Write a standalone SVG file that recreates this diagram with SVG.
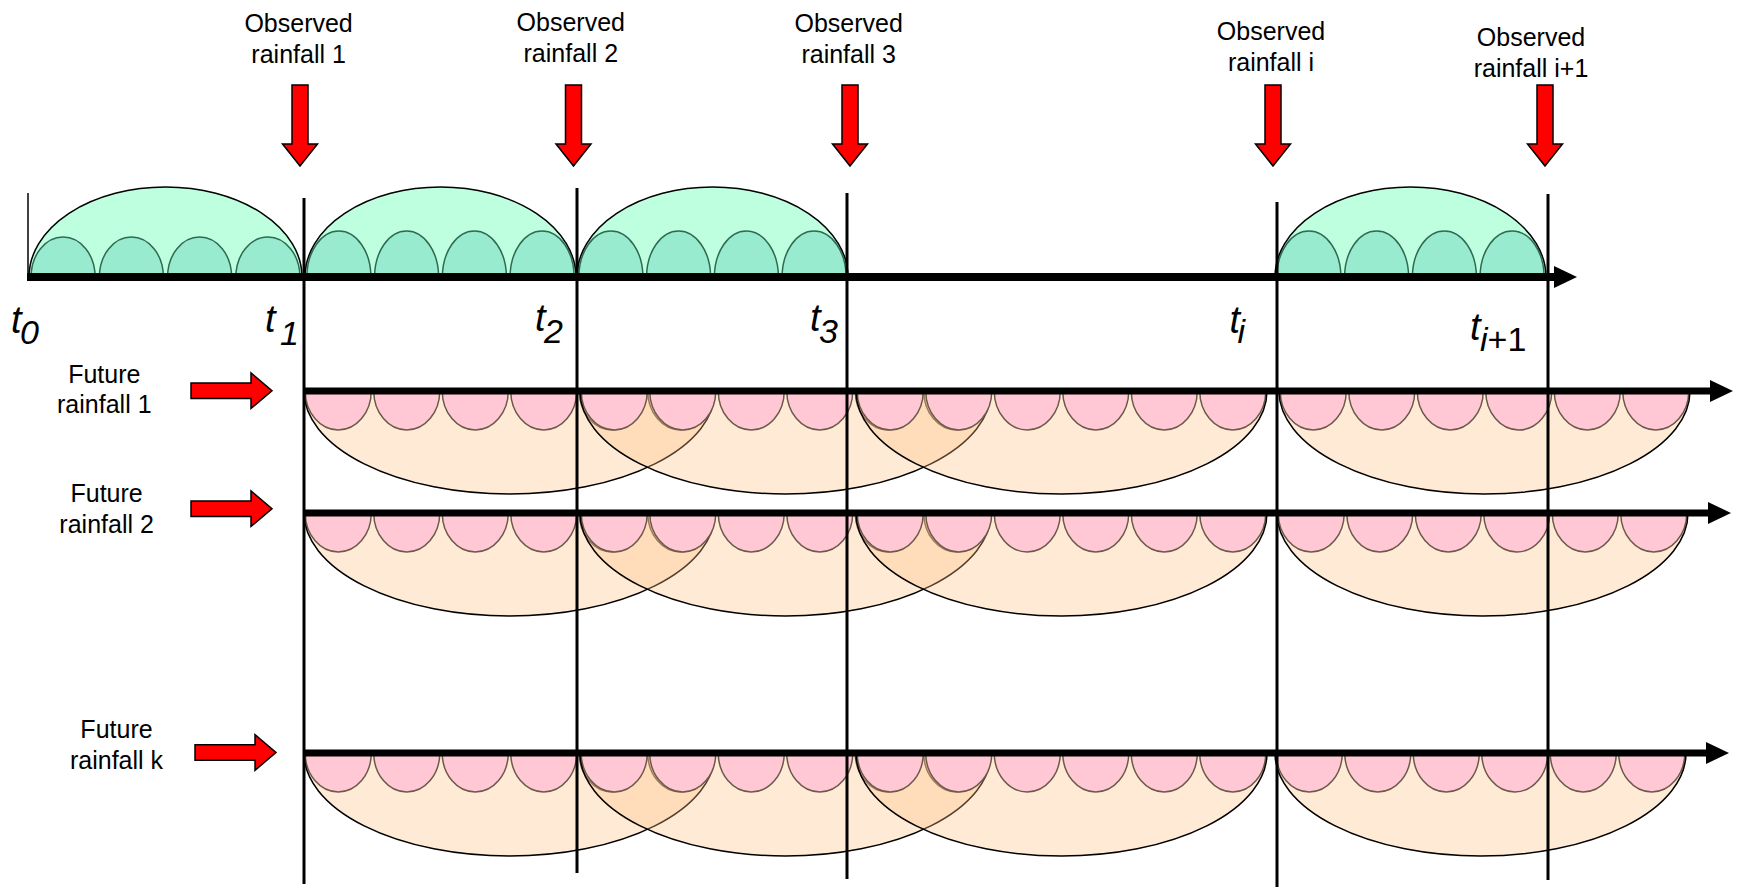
<svg xmlns="http://www.w3.org/2000/svg" xmlns:xlink="http://www.w3.org/1999/xlink" width="1739" height="887" viewBox="0 0 1739 887">
  <style>
    .lbl { font-family: "Liberation Sans", Arial, sans-serif; font-size: 25px; fill: #000; text-anchor: middle; }
    .tl { font-family: "Liberation Sans", Arial, sans-serif; font-size: 38px; font-style: italic; fill: #000; }
    .sub { font-size: 34px; }
    .up { font-style: normal; }
    .mint { fill: #bdffdf; }
    .subdome { fill: #99ebcf; stroke: #2f6a52; stroke-width: 1.5; }
    .edge { fill: none; stroke: #000; stroke-width: 1.5; }
    .peach { fill: #ffc084; fill-opacity: 0.33; }
    .drop { fill: #ffc8d4; stroke: #6b5a4a; stroke-width: 1.5; }
    .axis { stroke: #000; stroke-width: 7; fill: none; }
    .axis-top { stroke-width: 8; }
    .tick { stroke: #000; stroke-width: 3; }
    .tick-thin { stroke: #000; stroke-width: 1.5; }
    .red { fill: #ff0000; stroke: #000; stroke-width: 1.5; }
  </style>
  <defs>
    <marker id="head" markerUnits="userSpaceOnUse" markerWidth="24" markerHeight="24" refX="1" refY="12" orient="auto">
      <path d="M0,1 L23,12 L0,23 Z" fill="#000"/>
    </marker>

    <!-- observed spell: large dome over four sub-steps, base at y=0 -->
    <clipPath id="obsClip"><path d="M0,0 A135.5,90 0 0 1 271,0 Z"/></clipPath>
    <g id="obsDome">
      <path class="mint" d="M0,0 A135.5,90 0 0 1 271,0 Z"/>
      <g clip-path="url(#obsClip)">
        <path class="subdome" d="M1.9,0 A32,46 0 0 1 65.9,0 Z"/>
        <path class="subdome" d="M69.6,0 A32,46 0 0 1 133.6,0 Z"/>
        <path class="subdome" d="M137.4,0 A32,46 0 0 1 201.4,0 Z"/>
        <path class="subdome" d="M205.1,0 A32,46 0 0 1 269.1,0 Z"/>
      </g>
      <path class="edge" d="M0,0 A135.5,90 0 0 1 271,0"/>
    </g>
    <clipPath id="obsClipFirst"><path d="M0,0 A136.5,90 0 0 1 273,0 Z"/></clipPath>
    <g id="obsDomeFirst">
      <path class="mint" d="M0,0 A136.5,90 0 0 1 273,0 Z"/>
      <g clip-path="url(#obsClipFirst)">
        <path class="subdome" d="M2.1,0 A32,40 0 0 1 66.1,0 Z"/>
        <path class="subdome" d="M70.4,0 A32,40 0 0 1 134.4,0 Z"/>
        <path class="subdome" d="M138.6,0 A32,40 0 0 1 202.6,0 Z"/>
        <path class="subdome" d="M206.9,0 A32,40 0 0 1 270.9,0 Z"/>
      </g>
      <path class="edge" d="M0,0 A136.5,90 0 0 1 273,0"/>
    </g>

    <!-- forecast spell: hanging half-ellipse over six sub-steps, top at y=0 -->
    <clipPath id="futClip"><path d="M0,0 A205.5,103 0 0 0 411,0 Z"/></clipPath>
    <g id="futSpell">
      <path class="peach" d="M0,0 A205.5,103 0 0 0 411,0 Z"/>
      <g clip-path="url(#futClip)">
        <path class="drop" d="M1.25,0 A33,39 0 0 0 67.25,0 Z"/>
        <path class="drop" d="M69.75,0 A33,39 0 0 0 135.75,0 Z"/>
        <path class="drop" d="M138.25,0 A33,39 0 0 0 204.25,0 Z"/>
        <path class="drop" d="M206.75,0 A33,39 0 0 0 272.75,0 Z"/>
        <path class="drop" d="M275.25,0 A33,39 0 0 0 341.25,0 Z"/>
        <path class="drop" d="M343.75,0 A33,39 0 0 0 409.75,0 Z"/>
      </g>
      <path class="edge" d="M0,0 A205.5,103 0 0 0 411,0"/>
    </g>

    <path id="downArrow" class="red" d="M-8,0 H8 V59 H17.5 L0,81 L-17.5,59 H-8 Z"/>
    <path id="rightArrow" class="red" d="M0,-7.8 H60 V-17.8 L81,0 L60,17.8 V7.8 H0 Z"/>
  </defs>

  <!-- observed rainfall spells on the upper time axis -->
  <g id="observed-spells">
    <use xlink:href="#obsDomeFirst" x="29" y="277"/>
    <use xlink:href="#obsDome" x="305" y="277"/>
    <use xlink:href="#obsDome" x="577" y="277"/>
    <use xlink:href="#obsDome" x="1275" y="277"/>
  </g>

  <!-- forecast rows -->
  <g id="future-row-1">
    <use xlink:href="#futSpell" x="304" y="391"/>
    <use xlink:href="#futSpell" x="580" y="391"/>
    <use xlink:href="#futSpell" x="856" y="391"/>
    <use xlink:href="#futSpell" x="1279" y="391"/>
  </g>
  <g id="future-row-2">
    <use xlink:href="#futSpell" x="304" y="513"/>
    <use xlink:href="#futSpell" x="580" y="513"/>
    <use xlink:href="#futSpell" x="856" y="513"/>
    <use xlink:href="#futSpell" x="1277" y="513"/>
  </g>
  <g id="future-row-k">
    <use xlink:href="#futSpell" x="304" y="753"/>
    <use xlink:href="#futSpell" x="580" y="753"/>
    <use xlink:href="#futSpell" x="856" y="753"/>
    <use xlink:href="#futSpell" x="1275" y="753"/>
  </g>

  <!-- time axes and time marks -->
  <g id="connectors">
    <line class="axis axis-top" x1="27" y1="277" x2="1555" y2="277" marker-end="url(#head)"/>
    <line class="axis" x1="304" y1="391" x2="1711" y2="391" marker-end="url(#head)"/>
    <line class="axis" x1="304" y1="513" x2="1709" y2="513" marker-end="url(#head)"/>
    <line class="axis" x1="304" y1="753" x2="1707" y2="753" marker-end="url(#head)"/>

    <line class="tick-thin" x1="28" y1="193" x2="28" y2="277"/>
    <line class="tick" x1="304" y1="198" x2="304" y2="884"/>
    <line class="tick" x1="577" y1="188" x2="577" y2="873"/>
    <line class="tick" x1="847" y1="193" x2="847" y2="879"/>
    <line class="tick" x1="1277" y1="202" x2="1277" y2="887"/>
    <line class="tick" x1="1548" y1="194" x2="1548" y2="880"/>
  </g>

  <!-- observation arrows and labels -->
  <g id="obs-1">
    <use xlink:href="#downArrow" x="300" y="85"/>
    <text class="lbl" x="298.6" y="32">Observed</text>
    <text class="lbl" x="298.6" y="63">rainfall 1</text>
  </g>
  <g id="obs-2">
    <use xlink:href="#downArrow" x="573.5" y="85"/>
    <text class="lbl" x="570.8" y="31">Observed</text>
    <text class="lbl" x="570.8" y="62">rainfall 2</text>
  </g>
  <g id="obs-3">
    <use xlink:href="#downArrow" x="850" y="85"/>
    <text class="lbl" x="848.7" y="32">Observed</text>
    <text class="lbl" x="848.7" y="63">rainfall 3</text>
  </g>
  <g id="obs-i">
    <use xlink:href="#downArrow" x="1273" y="85"/>
    <text class="lbl" x="1271" y="40">Observed</text>
    <text class="lbl" x="1271" y="71">rainfall i</text>
  </g>
  <g id="obs-i1">
    <use xlink:href="#downArrow" x="1545" y="85"/>
    <text class="lbl" x="1531" y="46">Observed</text>
    <text class="lbl" x="1531" y="77">rainfall i+1</text>
  </g>

  <!-- forecast labels and arrows -->
  <g id="future-1">
    <text class="lbl" x="104.3" y="382.5">Future</text>
    <text class="lbl" x="104.3" y="413.3">rainfall 1</text>
    <use xlink:href="#rightArrow" x="191" y="390.7"/>
  </g>
  <g id="future-2">
    <text class="lbl" x="106.6" y="501.7">Future</text>
    <text class="lbl" x="106.6" y="533.3">rainfall 2</text>
    <use xlink:href="#rightArrow" x="191" y="508.7"/>
  </g>
  <g id="future-k">
    <text class="lbl" x="116.5" y="737.7">Future</text>
    <text class="lbl" x="116.5" y="769">rainfall k</text>
    <use xlink:href="#rightArrow" x="195" y="752.5"/>
  </g>

  <!-- time labels -->
  <g id="time-labels">
    <text class="tl" x="11" y="333">t<tspan class="sub" x="20" y="344">0</tspan></text>
    <text class="tl" x="265" y="332">t<tspan class="sub" x="280" y="345">1</tspan></text>
    <text class="tl" x="535" y="331">t<tspan class="sub" x="544" y="343">2</tspan></text>
    <text class="tl" x="810" y="331">t<tspan class="sub" x="819" y="343">3</tspan></text>
    <text class="tl" x="1229.5" y="333">t<tspan class="sub" x="1237.5" y="343">i</tspan></text>
    <text class="tl" x="1470" y="340">t<tspan class="sub" x="1480" y="351">i</tspan><tspan class="sub up">+1</tspan></text>
  </g>
</svg>
